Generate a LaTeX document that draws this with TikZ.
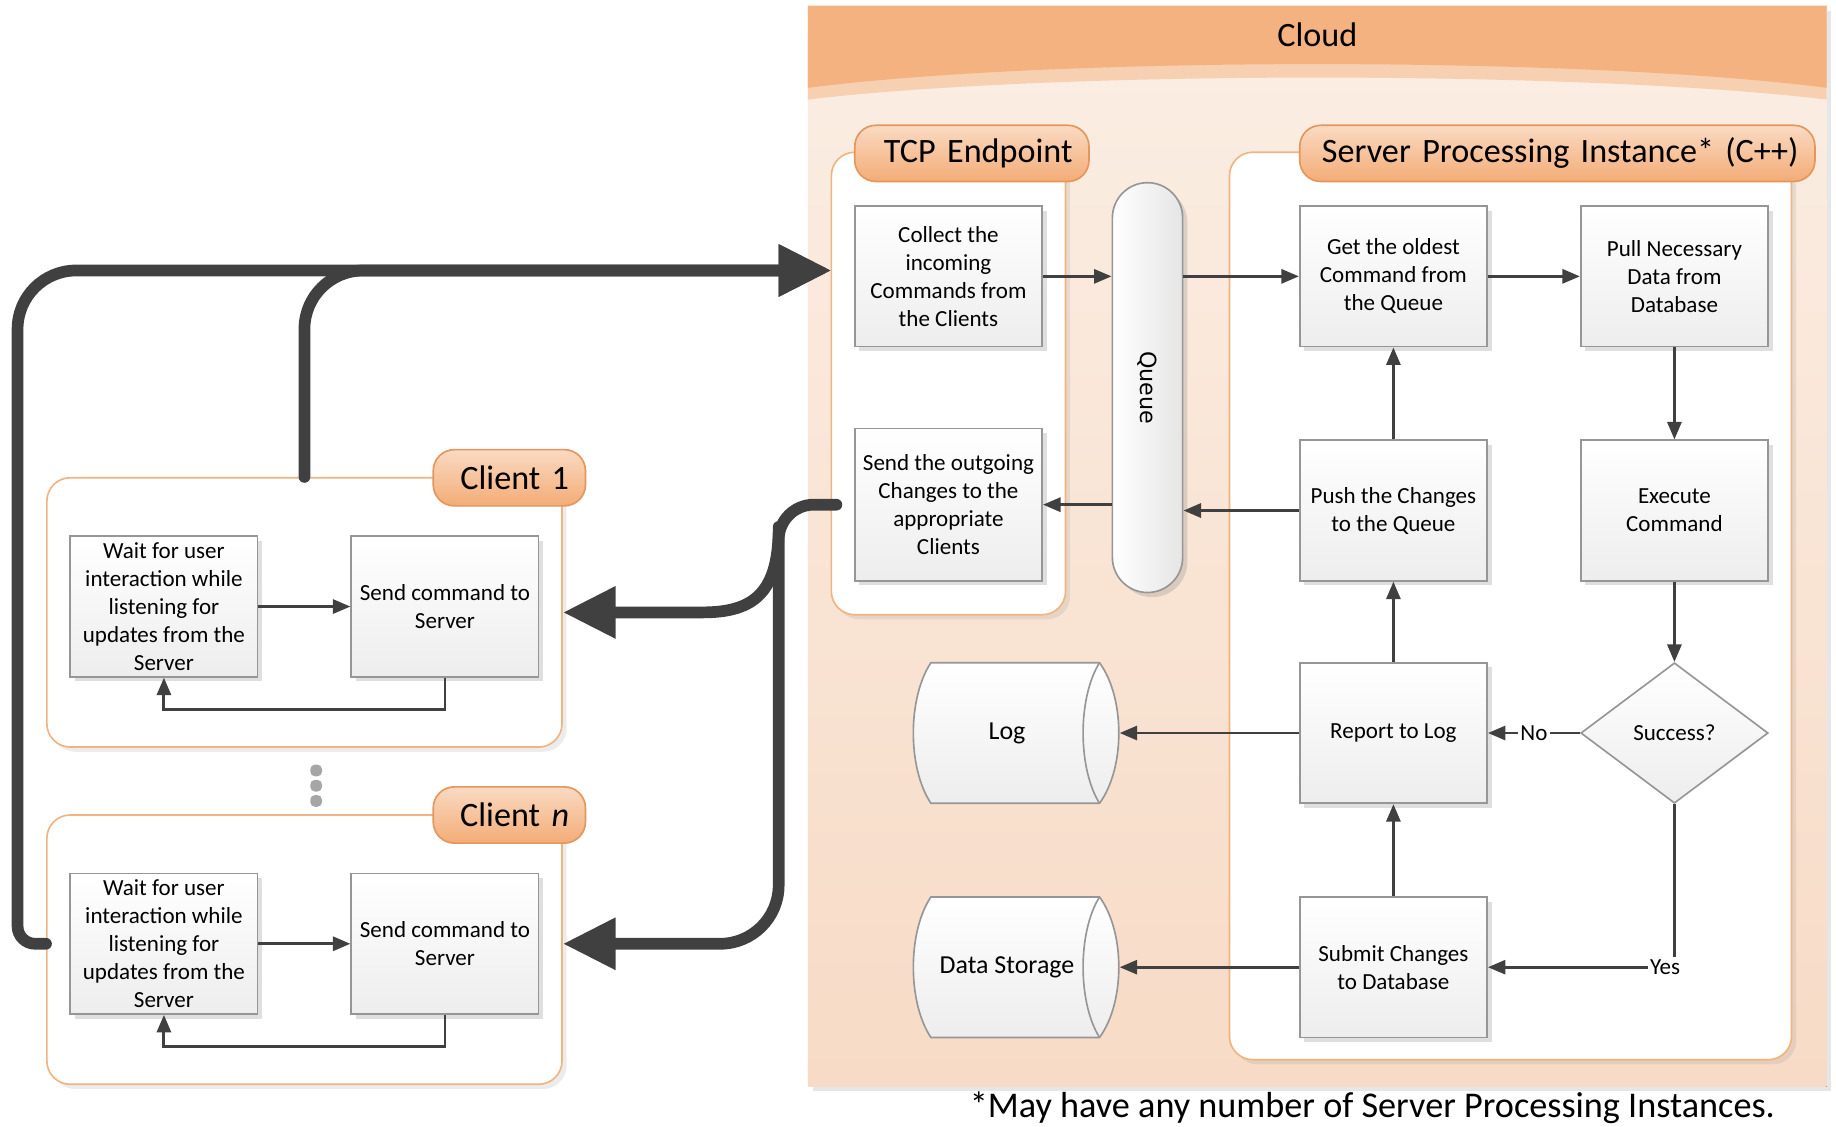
\documentclass[tikz,border=0pt]{standalone}
\usepackage{fontspec}
\setmainfont{Carlito}
\newfontfamily\queuefont{DejaVu Sans}
\usetikzlibrary{arrows.meta,shapes.geometric,shadows}

\definecolor{cloudhead}{RGB}{244,178,128}
\definecolor{cloudstrip}{RGB}{246,208,176}
\definecolor{cloudtop}{RGB}{251,238,228}
\definecolor{cloudmid}{RGB}{252,228,208}
\definecolor{cloudbot}{RGB}{247,219,198}
\definecolor{pilltop}{RGB}{250,218,194}
\definecolor{pillbot}{RGB}{243,172,118}
\definecolor{pilledge}{RGB}{228,150,92}
\definecolor{paneledge}{RGB}{240,180,128}
\definecolor{boxedge}{RGB}{150,150,150}
\definecolor{linegray}{RGB}{64,64,64}
\definecolor{dotgray}{RGB}{166,166,166}

\tikzset{
  proc/.style={rectangle, draw=boxedge, line width=0.4pt, top color=white,
    bottom color=black!7, minimum width=1.6cm, minimum height=1.2cm,
    inner sep=1pt, align=center, font=\fontsize{5.6}{6.8}\selectfont,
    drop shadow={shadow xshift=0.04cm, shadow yshift=-0.04cm, opacity=0.25}},
  panel/.style={rectangle, rounded corners=0.2cm, draw=paneledge, line width=0.4pt,
    fill=white, drop shadow={shadow xshift=0.04cm, shadow yshift=-0.04cm, opacity=0.15}},
  pill/.style={rectangle, rounded corners=0.18cm, draw=pilledge, line width=0.4pt,
    top color=pilltop, bottom color=pillbot, minimum height=0.48cm,
    inner xsep=0.14cm, inner ysep=0pt, align=right, font=\fontsize{8.3}{10}\selectfont},
  stored/.style={draw=boxedge, line width=0.4pt, top color=white, bottom color=black!7},
  storetext/.style={minimum width=1.91cm, minimum height=1.2cm, inner sep=0pt,
    font=\fontsize{6.3}{7.5}\selectfont},
  arr/.style={draw=linegray, line width=0.7pt, -{Triangle[length=0.15cm,width=0.12cm]}},
  lbl/.style={fill=white, inner sep=0.6pt, font=\fontsize{5.6}{6.8}\selectfont},
  bigline/.style={draw=linegray, line width=0.1cm, line cap=round},
  bigtip/.style={-{Triangle[length=0.45cm,width=0.42cm]}},
}

\begin{document}
\begin{tikzpicture}
  \useasboundingbox (0,0) rectangle (15.68,-9.617);

  % cloud
  \fill[top color=cloudtop, middle color=cloudmid, bottom color=cloudbot,
    drop shadow={shadow xshift=0.04cm, shadow yshift=-0.04cm, opacity=0.2}]
    (6.9,-0.05) rectangle (15.6,-9.28);
  \fill[cloudstrip] (6.9,-0.05) -- (15.6,-0.05) -- (15.6,-0.85)
    .. controls (13.5,-0.6) and (9.0,-0.6) .. (6.9,-0.85) -- cycle;
  \fill[cloudhead] (6.9,-0.05) -- (15.6,-0.05) -- (15.6,-0.75)
    .. controls (13.5,-0.48) and (9.0,-0.48) .. (6.9,-0.75) -- cycle;
  \node[font=\fontsize{8.3}{10}\selectfont] (cloud) at (11.25,-0.3) {Cloud};

  % containers
  \node[panel, minimum width=2.0cm, minimum height=3.95cm] (tcp) at (8.1,-3.275) {};
  \node[panel, minimum width=4.8cm, minimum height=7.75cm] (spi) at (12.9,-5.175) {};
  \node[panel, minimum width=4.4cm, minimum height=2.3cm] (c1) at (2.6,-5.23) {};
  \node[panel, minimum width=4.4cm, minimum height=2.3cm] (cn) at (2.6,-8.11) {};

  \node[pill, text width=1.72cm] (tcphead) at (8.3,-1.31) {TCP Endpoint};
  \node[pill, text width=4.12cm] (spihead) at (13.3,-1.31) {Server Processing Instance* (C++)};
  \node[pill, text width=1.02cm] (c1head) at (4.35,-4.08) {Client 1};
  \node[pill, text width=1.02cm] (cnhead) at (4.35,-6.96) {Client \textit{n}};

  \foreach \y in {6.58,6.71,6.84}
    \fill[dotgray, rounded corners=0.04cm] (2.65,-\y+0.05) rectangle (2.75,-\y-0.05);

  % tcp endpoint
  \node[proc] (collect) at (8.1,-2.36) {Collect the\\incoming\\Commands from\\the Clients};
  \node[proc, minimum height=1.3cm] (sendout) at (8.1,-4.31) {Send the outgoing\\Changes to the\\appropriate\\Clients};
  \node[rectangle, rounded corners=0.3cm, draw=boxedge, line width=0.4pt,
    left color=white, right color=black!10, minimum width=0.6cm, minimum height=3.5cm,
    drop shadow={shadow xshift=0.04cm, shadow yshift=-0.04cm, opacity=0.25}] (queue) at (9.8,-3.31) {};
  \node[rotate=-90, font=\queuefont\fontsize{5.4}{6.5}\selectfont] at (queue) {Queue};

  % server processing instance
  \node[proc] (getold) at (11.9,-2.36) {Get the oldest\\Command from\\the Queue};
  \node[proc] (pull) at (14.3,-2.36) {Pull Necessary\\Data from\\Database};
  \node[proc] (push) at (11.9,-4.36) {Push the Changes\\to the Queue};
  \node[proc] (exec) at (14.3,-4.36) {Execute\\Command};
  \node[diamond, aspect=1.33, draw=boxedge, line width=0.4pt, top color=white,
    bottom color=black!7, minimum width=1.6cm, minimum height=1.2cm, inner sep=0pt,
    font=\fontsize{5.6}{6.8}\selectfont] (succ) at (14.3,-6.26) {Success?};
  \node[proc] (report) at (11.9,-6.26) {Report to Log};
  \node[proc] (submit) at (11.9,-8.26) {Submit Changes\\to Database};

  % storage
  \foreach \name/\y/\txt in {log/-6.26/Log, store/-8.26/Data Storage}{
    \draw[stored, shift={(8.6,\y)}] (-0.65,0.6) -- (0.79,0.6)
      .. controls (1.01,0.3) and (1.01,-0.3) .. (0.79,-0.6) -- (-0.65,-0.6)
      .. controls (-0.85,-0.3) and (-0.85,0.3) .. (-0.65,0.6) -- cycle;
    \draw[boxedge, line width=0.4pt, shift={(8.6,\y)}] (0.79,0.6)
      .. controls (0.603,0.3) and (0.603,-0.3) .. (0.79,-0.6);
    \node[storetext] (\name) at (8.6,\y) {\txt};
  }

  % clients
  \foreach \c/\y in {1/-5.18, n/-8.06}{
    \node[proc] (wait\c) at (1.4,\y) {Wait for user\\interaction while\\listening for\\updates from the\\Server};
    \node[proc] (send\c) at (3.8,\y) {Send command to\\Server};
    \draw[arr] (wait\c) -- (send\c);
    \draw[arr] (send\c.south) -- ++(0,-0.27) -| (wait\c.south);
  }

  % flow
  \draw[arr] (collect.east) -- (collect.east -| queue.west);
  \draw[arr] (queue.east |- getold) -- (getold.west);
  \draw[arr] (getold) -- (pull);
  \draw[arr] (pull) -- (exec);
  \draw[arr] (exec) -- (succ);
  \draw[arr] (succ) -- node[lbl] {No} (report);
  \draw[arr] (succ) |- node[lbl, pos=0.5, xshift=-0.08cm] {Yes} (submit);
  \draw[arr] (report) -- (log);
  \draw[arr] (submit) -- (store);
  \draw[arr] (submit) -- (report);
  \draw[arr] (report) -- (push);
  \draw[arr] (push) -- (getold);
  \draw[arr] (push.west) -- (push.west -| queue.east);
  \draw[arr] (queue.west |- sendout) -- (sendout.east);

  % network
  \coordinate (tcpin) at (7.1,-2.31);
  \draw[bigline, bigtip] ([yshift=0.05cm]cn.west) [rounded corners=0.15cm] -- (0.15,-8.06)
    [rounded corners=0.5cm] -- (0.15,-2.31) -- (tcpin);
  \draw[bigline, bigtip, rounded corners=0.5cm] (c1.north) -- (2.6,-2.31) -- (tcpin);
  \draw[bigline, bigtip] ([xshift=-0.15cm]sendout.west) [rounded corners=0.3cm] -- (6.65,-4.31)
    [rounded corners=0.5cm] -- (6.65,-8.06) -- ([yshift=0.05cm]cn.east);
  \draw[bigline, bigtip] (6.65,-4.5) .. controls (6.65,-5.05) and (6.45,-5.23) .. (6.0,-5.23) -- (c1.east);

  \node[font=\fontsize{8.8}{10.5}\selectfont] (note) at (11.72,-9.46) {*May have any number of Server Processing Instances.};
\end{tikzpicture}
\end{document}
